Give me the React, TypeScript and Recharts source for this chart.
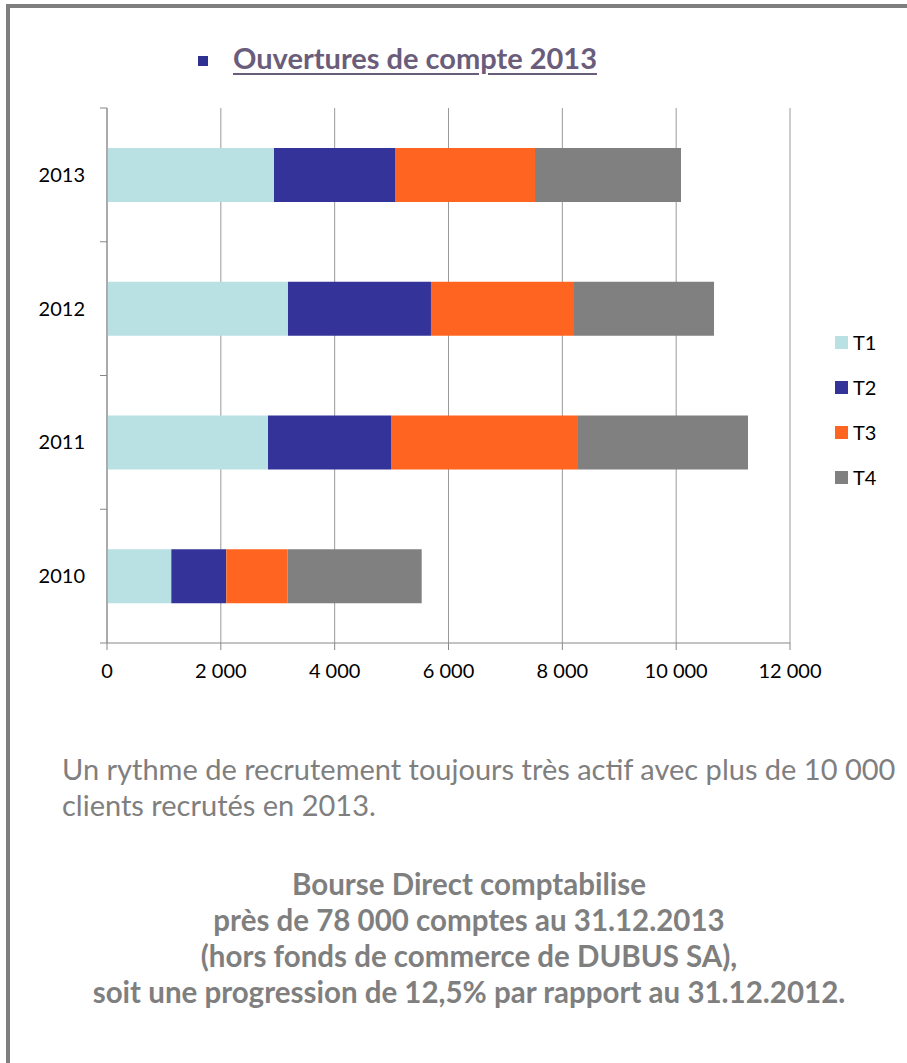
import React from "react";
import { BarChart, Bar, XAxis, YAxis, CartesianGrid } from "recharts";

// Ouvertures de compte par trimestre
const years = ["2013", "2012", "2011", "2010"];
const t1 = [2934, 3180, 2829, 1130];
const t2 = [2126, 2512, 2161, 966];
const t3 = [2460, 2513, 3285, 1078];
const t4 = [2565, 2460, 2987, 2355];
const xTicks = [0, 2000, 4000, 6000, 8000, 10000, 12000];

const series = [
  { key: "T1", values: t1, color: "#B9E0E3" },
  { key: "T2", values: t2, color: "#333399" },
  { key: "T3", values: t3, color: "#FF6521" },
  { key: "T4", values: t4, color: "#808080" },
];

const data = years.map((year, i) => {
  const row: any = { year };
  series.forEach((s) => (row[s.key] = s.values[i]));
  return row;
});

const FONT = "Lato, 'Open Sans', sans-serif";
const CHART_W = 907;
const CHART_H = 720;
const MARGIN = { top: 108, right: 117, bottom: 0, left: 0 };
const X_AXIS_H = 77;
const BAND = (CHART_H - MARGIN.top - MARGIN.bottom - X_AXIS_H) / years.length;

const fmt = (v: number) => String(v).replace(/\B(?=(\d{3})+(?!\d))/g, " ");

function YearTick(props: any) {
  const { x, y, payload, index } = props;
  return (
    <g>
      <line x1={x - 7} x2={x} y1={y - BAND / 2} y2={y - BAND / 2} stroke="#888" />
      {index === years.length - 1 && (
        <line x1={x - 7} x2={x} y1={y + BAND / 2} y2={y + BAND / 2} stroke="#888" />
      )}
      <text x={x - 22} y={y} dy="0.35em" textAnchor="end" fontSize={20} fill="#000" fontFamily={FONT}>
        {payload.value}
      </text>
    </g>
  );
}

export default function App() {
  return (
    <div style={{ position: "absolute", left: 0, top: 0, width: 907, height: 1063, overflow: "hidden", background: "#fff", fontFamily: FONT }}>
      {/* cadre */}
      <div style={{ position: "absolute", left: 6, top: 4, width: 1000, height: 1100, border: "4px solid #7f7f7f", boxSizing: "border-box" }} />

      {/* titre */}
      <div style={{ position: "absolute", left: 198, top: 56, width: 10, height: 10, background: "#2E3192" }} />
      <div style={{ position: "absolute", left: 233, top: 40, fontSize: 29, fontWeight: 700, color: "#6A5D7B", textDecoration: "underline", textUnderlineOffset: 4, whiteSpace: "nowrap" }}>
        Ouvertures de compte 2013
      </div>

      <div style={{ position: "absolute", left: 0, top: 0 }}>
        <BarChart width={CHART_W} height={CHART_H} data={data} layout="vertical" margin={MARGIN} barSize={54}>
          <CartesianGrid vertical horizontal={false} stroke="#999" />
          <XAxis
            type="number"
            domain={[0, 12000]}
            ticks={xTicks}
            tickFormatter={fmt}
            height={X_AXIS_H}
            stroke="#888"
            tickSize={7}
            tickMargin={14}
            tick={{ fontSize: 20, fill: "#000", fontFamily: FONT }}
          />
          <YAxis
            type="category"
            dataKey="year"
            width={107}
            stroke="#888"
            tickLine={false}
            tickSize={0}
            tickMargin={0}
            tick={<YearTick />}
          />
          {series.map((s) => (
            <Bar key={s.key} dataKey={s.key} stackId="a" fill={s.color} isAnimationActive={false} />
          ))}
        </BarChart>
      </div>

      {/* légende */}
      {series.map((s, i) => (
        <div key={s.key} style={{ position: "absolute", left: 835, top: 332 + i * 45, display: "flex", alignItems: "center", height: 20 }}>
          <div style={{ width: 13, height: 13, background: s.color, marginRight: 5 }} />
          <span style={{ fontSize: 20, color: "#000" }}>{s.key}</span>
        </div>
      ))}

      {/* commentaire */}
      <div style={{ position: "absolute", left: 62, top: 751, fontSize: 29, lineHeight: "36px", color: "#7f7f7f", whiteSpace: "nowrap" }}>
        Un rythme de recrutement toujours très actif avec plus de 10 000
        <br />
        clients recrutés en 2013.
      </div>

      <div style={{ position: "absolute", left: 19, width: 900, top: 866, fontSize: 29.5, lineHeight: "36px", fontWeight: 700, color: "#7f7f7f", textAlign: "center", whiteSpace: "nowrap" }}>
        Bourse Direct comptabilise
        <br />
        près de 78 000 comptes au 31.12.2013
        <br />
        (hors fonds de commerce de DUBUS SA),
        <br />
        soit une progression de 12,5% par rapport au 31.12.2012.
      </div>
    </div>
  );
}
